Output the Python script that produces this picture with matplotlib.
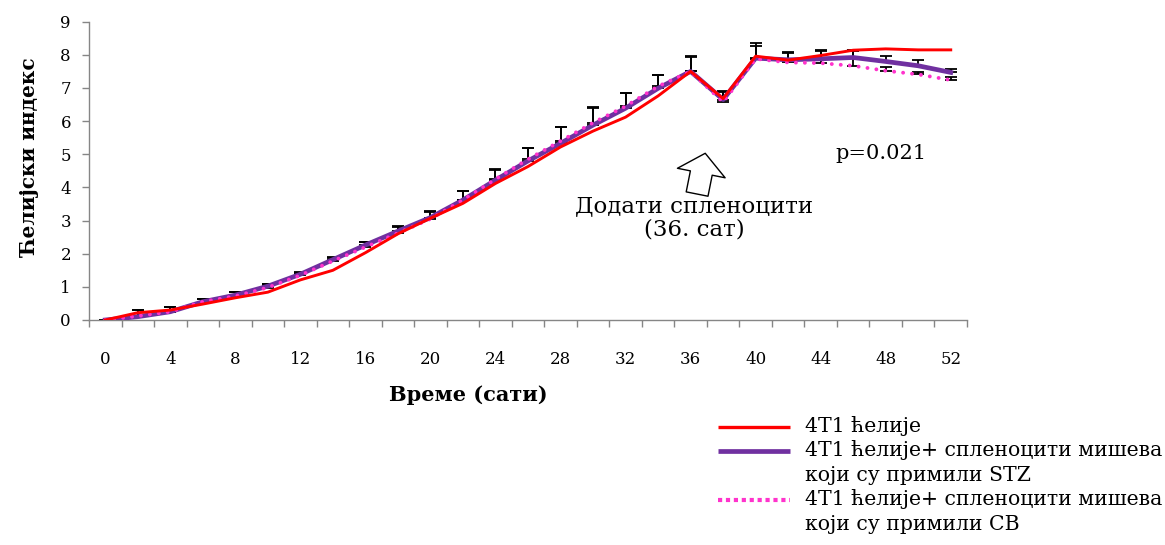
import matplotlib
matplotlib.use("Agg")
import matplotlib.pyplot as plt
from matplotlib.lines import Line2D
import numpy as np

# Hours after seeding (one category every 2 h)
hours = [0, 2, 4, 6, 8, 10, 12, 14, 16, 18, 20, 22, 24, 26, 28,
         30, 32, 34, 36, 38, 40, 42, 44, 46, 48, 50, 52]

# Cell index, 4T1 cells alone
ci_4t1 = [0.00, 0.22, 0.30, 0.48, 0.67, 0.84, 1.21, 1.50, 2.03, 2.60, 3.07, 3.52, 4.12,
          4.63, 5.22, 5.70, 6.12, 6.76, 7.50, 6.68, 7.96, 7.84, 7.98, 8.14, 8.18, 8.15, 8.15]

# Cell index, 4T1 + splenocytes from STZ-treated mice
ci_stz = [0.00, 0.10, 0.25, 0.55, 0.75, 1.02, 1.38, 1.82, 2.26, 2.68, 3.09, 3.62, 4.22,
          4.80, 5.33, 5.88, 6.39, 6.99, 7.50, 6.65, 7.90, 7.85, 7.88, 7.92, 7.80, 7.67, 7.47]
err_stz = [0.00, 0.20, 0.14, 0.08, 0.10, 0.07, 0.06, 0.07, 0.10, 0.16, 0.20, 0.28, 0.33,
           0.40, 0.50, 0.54, 0.47, 0.40, 0.48, 0.26, 0.47, 0.25, 0.27, 0.23, 0.18, 0.16, 0.10]

# Cell index, 4T1 + splenocytes from CB-treated mice
ci_cb = [0.00, 0.12, 0.25, 0.55, 0.72, 0.98, 1.35, 1.78, 2.20, 2.62, 3.05, 3.62, 4.25,
         4.85, 5.40, 5.95, 6.45, 7.05, 7.50, 6.57, 7.88, 7.77, 7.75, 7.67, 7.52, 7.41, 7.24]
err_cb = [0.00, 0.18, 0.14, 0.07, 0.12, 0.10, 0.08, 0.09, 0.15, 0.20, 0.22, 0.26, 0.28,
          0.33, 0.42, 0.45, 0.40, 0.33, 0.43, 0.32, 0.39, 0.28, 0.38, 0.45, 0.10, 0.06, 0.08]

labels_legend = ["4T1 ћелије",
                 "4T1 ћелије+ спленоцити мишева\nкоји су примили STZ",
                 "4T1 ћелије+ спленоцити мишева\nкоји су примили CB"]

col_4t1 = "#FF0000"
col_stz = "#7030A0"
col_cb = "#FF33CC"
serif = "DejaVu Serif"

fig = plt.figure(figsize=(11.65, 5.45), dpi=100)
ax = fig.add_axes([89 / 1165, 1 - 320 / 545, (967 - 89) / 1165, (320 - 21.7) / 545])

x = np.arange(len(hours))

ax.errorbar(x, ci_stz, yerr=[np.zeros(len(x)), err_stz], fmt="none",
            ecolor="black", elinewidth=1.3, capsize=4, capthick=1.3, zorder=2)
ax.errorbar(x, ci_cb, yerr=[np.zeros(len(x)), err_cb], fmt="none",
            ecolor="black", elinewidth=1.3, capsize=4, capthick=1.3, zorder=2)

ax.plot(x, ci_stz, color=col_stz, lw=3.4, zorder=3, solid_joinstyle="round")
ax.plot(x, ci_cb, color=col_cb, lw=2.8, linestyle=(0, (0.01, 2.3)),
        dash_capstyle="round", zorder=4)
ax.plot(x, ci_4t1, color=col_4t1, lw=2.1, zorder=5, solid_joinstyle="round")

ax.set_xlim(-0.5, len(hours) - 0.5)
ax.set_ylim(0, 9)

ax.set_xticks(x[::2])
ax.set_xticklabels([str(h) for h in hours[::2]], fontsize=12, family=serif)
ax.set_xticks(np.arange(-0.5, len(hours), 1.0), minor=True)
ax.tick_params(axis="x", which="major", length=0, pad=22)
ax.tick_params(axis="x", which="minor", length=5, color="#868686", width=1)
ax.set_yticks(range(0, 10))
ax.set_yticklabels([str(v) for v in range(0, 10)], fontsize=12, family=serif)
ax.tick_params(axis="y", length=5, color="#868686", width=1, pad=8)

for side in ("top", "right"):
    ax.spines[side].set_visible(False)
for side in ("left", "bottom"):
    ax.spines[side].set_color("#868686")
    ax.spines[side].set_linewidth(1)

ax.set_ylabel("Ћелијски индекс", fontsize=14.5, fontweight="bold", family=serif)
ax.yaxis.set_label_coords(-0.067, 0.546)
ax.set_xlabel("Време (сати)", fontsize=15, fontweight="bold", family=serif)
ax.xaxis.set_label_coords(0.432, -0.251)
ax.xaxis.label.set_va("center")
ax.yaxis.label.set_va("center")

# arrow marking the addition of splenocytes at 36 h
ax.annotate("", xy=(18.45, 5.03), xytext=(18.2, 3.8),
            arrowprops=dict(facecolor="white", edgecolor="black", lw=1.0,
                            width=16, headwidth=35, headlength=14.5, shrink=0))
ax.text(18.12, 3.08, "Додати спленоцити\n(36. сат)", ha="center", va="center",
        fontsize=16.5, family=serif, linespacing=1.1)
ax.text(23.85, 5.03, "p=0.021", ha="center", va="center", fontsize=15, family=serif)

# legend drawn in figure pixels
legend_rows = [(427, col_4t1, "-", 2.4), (451, col_stz, "-", 3.4), (500, col_cb, (0, (1, 0.9)), 3.0)]
for (yy, c, ls, lw), lab in zip(legend_rows, labels_legend):
    yf = 1 - yy / 545
    fig.add_artist(Line2D([718 / 1165, 790 / 1165], [yf, yf], color=c, lw=lw, linestyle=ls,
                          solid_capstyle="butt", dash_capstyle="butt"))
    fig.text(805 / 1165, 1 - (yy - 11) / 545, lab, ha="left", va="top", fontsize=14.7,
             family=serif, linespacing=1.38, transform=fig.transFigure)

fig.savefig("out.png", dpi=100)
